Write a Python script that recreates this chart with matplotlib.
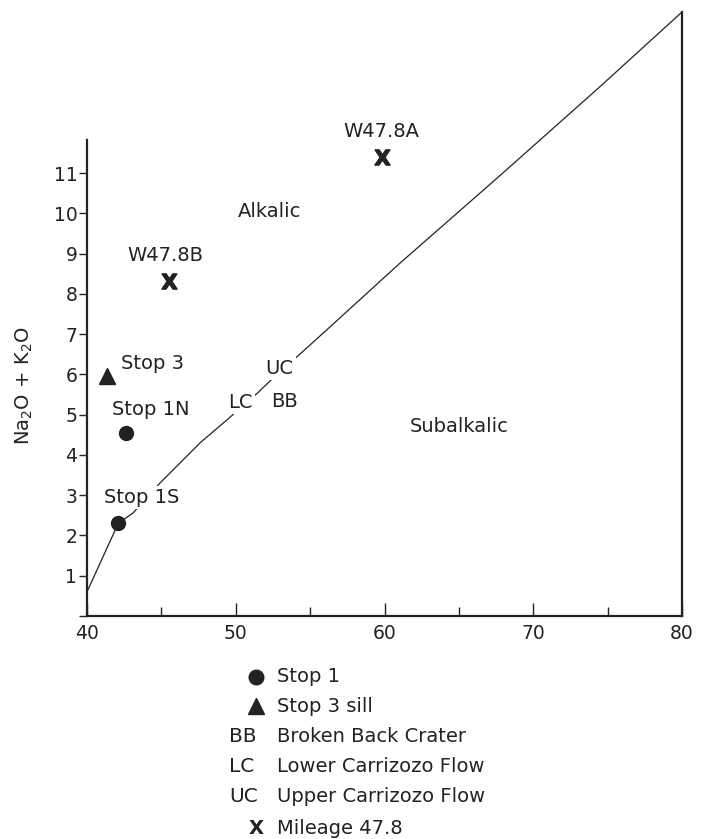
import matplotlib
matplotlib.use("Agg")
import matplotlib.pyplot as plt

plt.rcParams['font.family'] = ['DejaVu Sans']
INK = '#222222'

# ---------------------------------------------
# Data
# ---------------------------------------------
# Alkalic / subalkalic dividing line (SiO2 vs Na2O + K2O)
line_sio2 = [40.0, 42.1, 43.1, 44.9, 47.6, 49.5, 51.5, 52.2, 54.3, 56.1, 61.0, 67.8, 74.5, 80.0]
line_alk  = [0.6,  2.3,  2.56, 3.3,  4.3,  4.9,  5.55, 5.8,  6.5,  7.1,  8.75, 10.95, 13.15, 15.0]

# Stop 1 samples (circles)
stop1_names = ['Stop 1N', 'Stop 1S']
stop1_sio2  = [42.6, 42.1]
stop1_alk   = [4.55, 2.32]

# Stop 3 sill (triangle)
stop3_sio2 = [41.35]
stop3_alk  = [5.95]

# Mileage 47.8 samples (X)
w_names = ['W47.8A', 'W47.8B']
w_sio2  = [59.8, 45.5]
w_alk   = [11.4, 8.33]

# Text labels placed in the field
field_labels = ['Alkalic', 'Subalkalic', 'UC', 'LC', 'BB',
                'Stop 3', 'Stop 1N', 'Stop 1S', 'W47.8B', 'W47.8A']
field_x = [52.3, 65.0, 52.95, 50.3, 53.25, 44.4, 44.3, 43.7, 45.3, 59.8]
field_y = [10.05, 4.7, 6.15, 5.3, 5.33, 6.28, 5.12, 2.95, 8.96, 12.02]
field_halo = [False, False, True, True, False, False, False, True, False, False]

x_major = [40, 50, 60, 70, 80]
x_minor = [45, 55, 65, 75]
y_ticks = list(range(0, 12))

# legend entries (symbol, description)
legend_symbols = ['o', '^', 'BB', 'LC', 'UC', 'X']
legend_texts = ['Stop 1', 'Stop 3 sill', 'Broken Back Crater',
                'Lower Carrizozo Flow', 'Upper Carrizozo Flow', 'Mileage 47.8']

# ---------------------------------------------
# Figure
# ---------------------------------------------
W, H = 702, 839
fig = plt.figure(figsize=(W / 100, H / 100), dpi=100)
ax = fig.add_axes([87 / W, 1 - 616 / H, 595 / W, 604 / H])

ax.set_xlim(40, 80)
ax.set_ylim(0, 15)

ax.plot(line_sio2, line_alk, color=INK, lw=0.9, zorder=2)

ax.plot(stop1_sio2, stop1_alk, 'o', color=INK, ms=10, zorder=3)
ax.plot(stop3_sio2, stop3_alk, '^', color=INK, ms=11, zorder=3)
ax.plot(w_sio2, w_alk, linestyle='none', marker=r'$\mathbf{X}$', color=INK,
        ms=11, zorder=3)

for txt, x, y, halo in zip(field_labels, field_x, field_y, field_halo):
    kw = {}
    if halo:
        kw['bbox'] = dict(facecolor='white', edgecolor='none', pad=1.5)
    ax.text(x, y, txt, fontsize=14, color=INK, ha='center', va='center',
            zorder=4, **kw)

# spines
ax.spines['top'].set_visible(False)
for s in ['left', 'right', 'bottom']:
    ax.spines[s].set_linewidth(1.6)
    ax.spines[s].set_color(INK)
ax.spines['left'].set_bounds(0, 11.82)

# ticks
ax.set_xticks(x_major)
ax.set_xticks(x_minor, minor=True)
ax.tick_params(axis='x', which='major', direction='in', length=9.5, width=1,
               labelsize=13.5, pad=6, colors=INK)
ax.tick_params(axis='x', which='minor', direction='in', length=6.5, width=1, colors=INK)
ax.set_yticks(y_ticks)
ax.set_yticklabels(['' if v == 0 else str(v) for v in y_ticks])
ax.tick_params(axis='y', which='major', direction='out', length=6, width=1,
               labelsize=13.5, pad=1, colors=INK)

ax.set_ylabel(r'Na$_2$O + K$_2$O', fontsize=14, color=INK)
ax.yaxis.set_label_coords(-0.088, 0.382)

# ---------------------------------------------
# Legend below the plot (drawn in figure pixels)
# ---------------------------------------------
def fx(px):
    return px / W

def fy(py):
    return 1 - py / H

row_y = [677, 706, 737, 767, 797, 828]
for sym, desc, py in zip(legend_symbols, legend_texts, row_y):
    if sym == 'o':
        fig.add_artist(plt.Line2D([fx(256)], [fy(py)], marker='o', ms=10.5,
                                  color=INK, linestyle='none'))
    elif sym == '^':
        fig.add_artist(plt.Line2D([fx(256)], [fy(py)], marker='^', ms=11,
                                  color=INK, linestyle='none'))
    elif sym == 'X':
        fig.text(fx(256), fy(py), 'X', fontsize=14, fontweight='bold',
                 color=INK, ha='center', va='center')
    else:
        fig.text(fx(229), fy(py), sym, fontsize=14.5, color=INK,
                 ha='left', va='center')
    fig.text(fx(277), fy(py), desc, fontsize=14, color=INK,
             ha='left', va='center')

fig.savefig('out.png', dpi=100, facecolor='white')
